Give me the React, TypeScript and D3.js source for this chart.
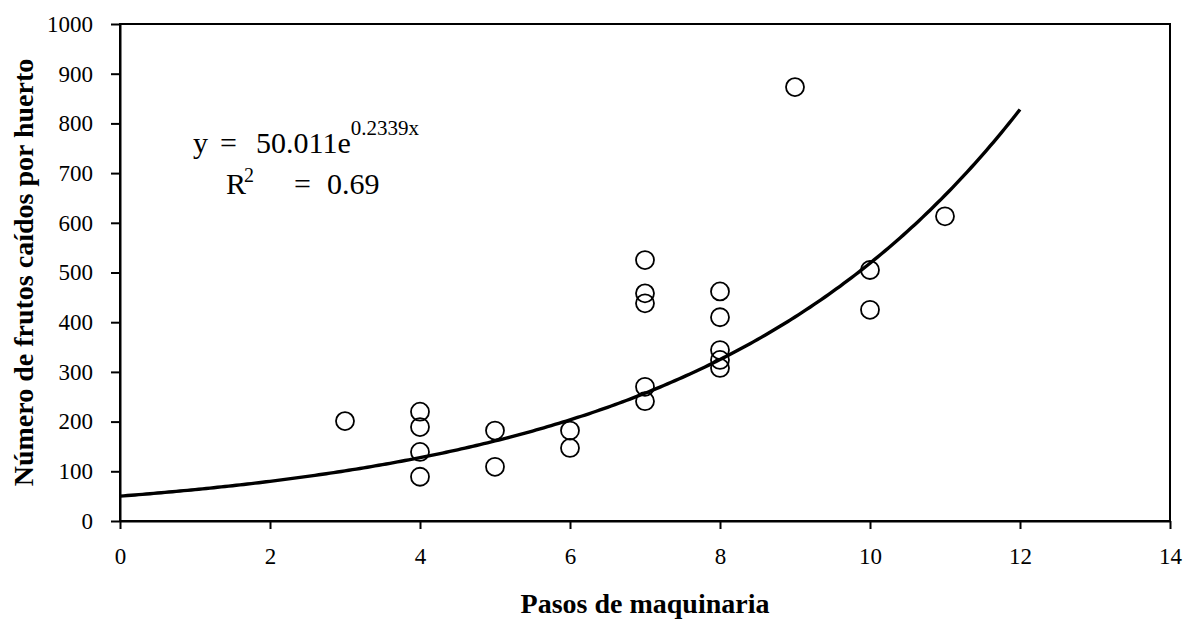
import React, { useEffect, useRef } from 'react';
import * as d3 from 'd3';

// Puntos observados (pasos de maquinaria, frutos caídos)
const pasos = [3, 4, 4, 4, 4, 5, 5, 6, 6, 7, 7, 7, 7, 7, 8, 8, 8, 8, 8, 9, 10, 10, 11];
const frutos = [201, 220, 189, 139, 89, 182, 109, 182, 147, 525, 458, 438, 270, 241, 462, 410, 344, 324, 308, 873, 505, 425, 613];

// Coeficientes de la línea de tendencia exponencial (de la ecuación mostrada)
const coefA = 50.011;
const coefB = 0.2339;
const r2Valor = '0.69';
const tendDomain = [0, 12];

const xTicks = [0, 2, 4, 6, 8, 10, 12, 14];
const yTicks = [0, 100, 200, 300, 400, 500, 600, 700, 800, 900, 1000];

const FONT = '"Liberation Serif", "Times New Roman", serif';

const App: React.FC = () => {
  const svgRef = useRef<SVGSVGElement>(null);

  useEffect(() => {
    if (!svgRef.current) return;
    const svg = d3.select(svgRef.current);
    svg.selectAll('*').remove();

    const left = 120, right = 1170, top = 24, bottom = 521;

    const x = d3.scaleLinear().domain([0, 14]).range([left, right]);
    const y = d3.scaleLinear().domain([0, 1000]).range([bottom, top]);

    // Marco del área de trazado
    svg.append('rect')
      .attr('x', left).attr('y', top)
      .attr('width', right - left).attr('height', bottom - top)
      .attr('fill', 'none').attr('stroke', '#000').attr('stroke-width', 2);

    const xAxis = svg.append('g')
      .attr('transform', `translate(0,${bottom})`)
      .call(d3.axisBottom(x).tickValues(xTicks).tickFormat(d3.format('d'))
        .tickSize(8).tickSizeOuter(0).tickPadding(19));
    xAxis.select('.domain').attr('stroke-width', 2);
    xAxis.selectAll('line').attr('stroke-width', 2);
    xAxis.selectAll('text')
      .attr('font-family', FONT).attr('font-size', 23).attr('fill', '#000');

    const yAxis = svg.append('g')
      .attr('transform', `translate(${left},0)`)
      .call(d3.axisLeft(y).tickValues(yTicks).tickFormat(d3.format('d'))
        .tickSize(9).tickSizeOuter(0).tickPadding(18));
    yAxis.select('.domain').attr('stroke-width', 2);
    yAxis.selectAll('line').attr('stroke-width', 2);
    yAxis.selectAll('text')
      .attr('font-family', FONT).attr('font-size', 23).attr('fill', '#000');

    // Línea de tendencia
    const tend = d3.range(tendDomain[0], tendDomain[1] + 0.001, 0.05);
    const line = d3.line<number>()
      .x(d => x(d))
      .y(d => y(coefA * Math.exp(coefB * d)));
    svg.append('path')
      .datum(tend)
      .attr('d', line)
      .attr('fill', 'none')
      .attr('stroke', '#000')
      .attr('stroke-width', 3.4);

    // Puntos
    svg.append('g')
      .selectAll('circle')
      .data(pasos.map((p, i) => [p, frutos[i]]))
      .join('circle')
      .attr('cx', d => x(d[0]))
      .attr('cy', d => y(d[1]))
      .attr('r', 9)
      .attr('fill', 'none')
      .attr('stroke', '#000')
      .attr('stroke-width', 1.8);

    // Ecuación
    const eq = svg.append('g')
      .attr('font-family', FONT).attr('font-size', 30).attr('fill', '#000');
    eq.append('text').attr('x', 193).attr('y', 153).text('y');
    eq.append('text').attr('x', 220).attr('y', 153).text('=');
    const e1 = eq.append('text').attr('x', 256).attr('y', 153);
    e1.append('tspan').text(`${coefA}e`);
    e1.append('tspan').text(`${coefB}x`).attr('font-size', 21).attr('dy', -18);

    eq.append('text').attr('x', 226).attr('y', 194).text('R');
    eq.append('text').attr('x', 244).attr('y', 182).attr('font-size', 20).text('2');
    eq.append('text').attr('x', 294).attr('y', 194).text('=');
    eq.append('text').attr('x', 327).attr('y', 194).text(r2Valor);

    // Títulos de ejes
    svg.append('text')
      .attr('x', (left + right) / 2).attr('y', 613)
      .attr('text-anchor', 'middle')
      .attr('font-family', FONT).attr('font-size', 28).attr('font-weight', 'bold')
      .text('Pasos de maquinaria');

    svg.append('text')
      .attr('transform', `translate(33,${(top + bottom) / 2}) rotate(-90)`)
      .attr('text-anchor', 'middle')
      .attr('font-family', FONT).attr('font-size', 28).attr('font-weight', 'bold')
      .text('Número de frutos caídos por huerto');
  }, []);

  return (
    <div style={{ position: 'absolute', left: 0, top: 0 }}>
      <svg ref={svgRef} width={1187} height={622} style={{ display: 'block', background: '#fff' }} />
    </div>
  );
};

export default App;
